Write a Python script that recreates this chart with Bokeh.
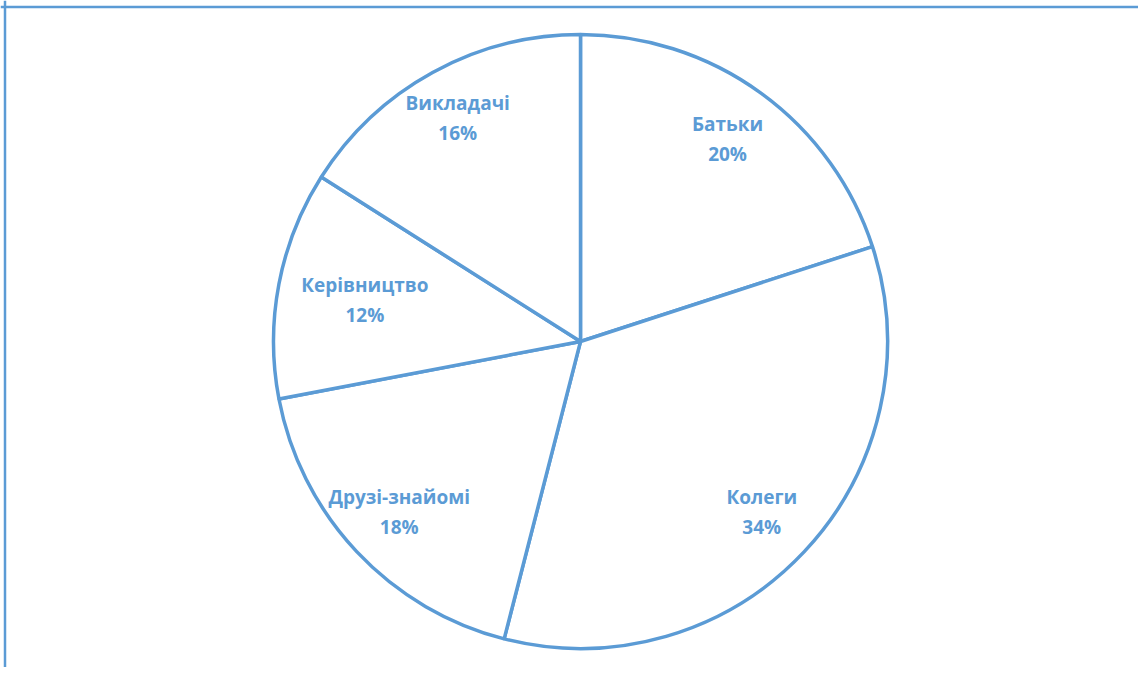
import math
from bokeh.plotting import figure
from bokeh.models import Range1d, Span, ColumnDataSource
from bokeh.core.properties import value
from bokeh.embed import file_html
from bokeh.resources import INLINE

categories = ["Батьки", "Колеги", "Друзі-знайомі", "Керівництво", "Викладачі"]
shares = [20, 34, 18, 12, 16]
pct_labels = ["20%", "34%", "18%", "12%", "16%"]

BLUE = "#5B9BD5"
W, H = 1138, 667
CX, CY = 580, 341          # pie centre in figure pixels from top-left
R = 307
label_r = [0.815, 0.81, 0.81, 0.715, 0.83]

total = sum(shares)
starts, ends, mids = [], [], []
a = math.pi / 2
for s in shares:
    sweep = 2 * math.pi * s / total
    starts.append(a - sweep)
    ends.append(a)
    mids.append(a - sweep / 2)
    a -= sweep

lx = [label_r[i] * R * math.cos(m) for i, m in enumerate(mids)]
ly = [label_r[i] * R * math.sin(m) for i, m in enumerate(mids)]

src = ColumnDataSource(dict(start=starts, end=ends, x=[0] * 5, y=[0] * 5))
lsrc = ColumnDataSource(dict(x=lx, y1=[v + 15 for v in ly], y2=[v - 15 for v in ly],
                             name=categories, pct=pct_labels))

p = figure(width=W, height=H, output_backend="svg", toolbar_location=None,
           x_range=Range1d(-CX, W - CX), y_range=Range1d(CY - H, CY),
           min_border=0, outline_line_color=None)
p.axis.visible = False
p.grid.visible = False
p.background_fill_color = "white"

p.wedge(x="x", y="y", radius=R, start_angle="start", end_angle="end",
        fill_color="white", line_color=BLUE, line_width=3.5, source=src)

for col in ("y1", "y2"):
    p.text(x="x", y=col, text="name" if col == "y1" else "pct", source=lsrc,
           text_font=value("Open Sans"), text_font_style="bold",
           text_font_size="19px", text_color=BLUE,
           text_align="center", text_baseline="middle")

p.add_layout(Span(location=-CX + 4.5, dimension="height", line_color=BLUE, line_width=2.5))
p.add_layout(Span(location=CY - 6.5, dimension="width", line_color=BLUE, line_width=2.5))

open("out.html", "w").write(file_html(p, INLINE))
